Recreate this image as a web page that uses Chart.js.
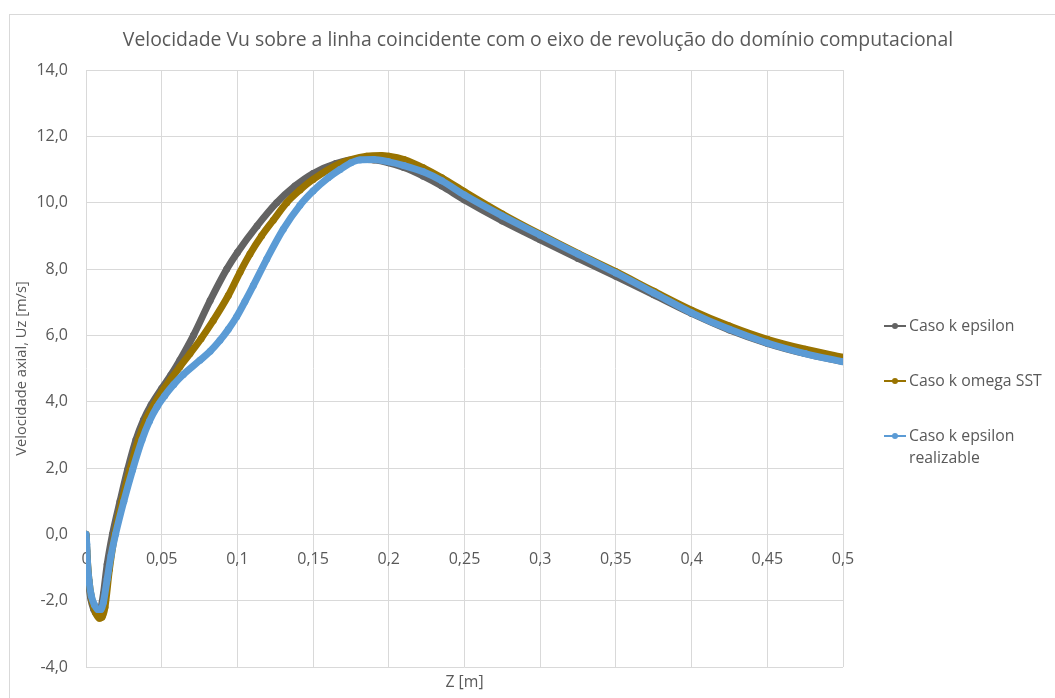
<!DOCTYPE html>
<html>
<head>
<meta charset="utf-8">
<script src="https://cdn.jsdelivr.net/npm/chart.js@4"></script>
<style>
  html, body { margin: 0; padding: 0; background: #ffffff; }
  canvas { display: block; }
</style>
</head>
<body>
<canvas id="c" width="1055" height="698"></canvas>
<script>
// ---- Data ----
const chartTitle = 'Velocidade Vu sobre a linha coincidente com o eixo de revolução do domínio computacional';
const xAxisTitle = 'Z [m]';
const yAxisTitle = 'Velocidade axial, Uz [m/s]';
const seriesNames = ['Caso k epsilon', 'Caso k omega SST', 'Caso k epsilon realizable'];
const seriesColors = ['#636363', '#997300', '#5B9BD5'];

const xTickLabels = ['0', '0,05', '0,1', '0,15', '0,2', '0,25', '0,3', '0,35', '0,4', '0,45', '0,5'];
const yTickLabels = ['-4,0', '-2,0', '0,0', '2,0', '4,0', '6,0', '8,0', '10,0', '12,0', '14,0'];

const zEps = [0, 0.0005, 0.0015, 0.003, 0.005, 0.0075, 0.0095, 0.0115, 0.014, 0.0175, 0.0225, 0.0275, 0.033, 0.038, 0.043, 0.05, 0.056, 0.062, 0.071, 0.082, 0.093, 0.1, 0.113, 0.126, 0.138, 0.15, 0.165, 0.18, 0.19, 0.2, 0.21, 0.2228, 0.235, 0.25, 0.275, 0.3, 0.325, 0.35, 0.375, 0.4, 0.425, 0.45, 0.475, 0.5];
const vEps = [0, -0.5, -1.3, -1.9, -2.25, -2.41, -2.3, -1.8, -0.9, 0, 1.0, 1.95, 2.85, 3.45, 3.9, 4.4, 4.8, 5.25, 6.0, 7.05, 8.0, 8.5, 9.3, 10.0, 10.5, 10.88, 11.18, 11.31, 11.29, 11.2, 11.06, 10.8, 10.5, 10.08, 9.45, 8.88, 8.32, 7.78, 7.22, 6.66, 6.16, 5.76, 5.45, 5.21];

const zSst = [0, 0.0008, 0.002, 0.004, 0.0065, 0.009, 0.0105, 0.0125, 0.0155, 0.019, 0.0235, 0.029, 0.035, 0.04, 0.045, 0.05, 0.056, 0.062, 0.0687, 0.076, 0.0841, 0.094, 0.1017, 0.1083, 0.116, 0.1237, 0.1326, 0.1413, 0.15, 0.1678, 0.1854, 0.195, 0.2, 0.21, 0.2228, 0.235, 0.25, 0.275, 0.3, 0.325, 0.35, 0.375, 0.4, 0.425, 0.45, 0.475, 0.5];
const vSst = [0, -0.7, -1.4, -2.0, -2.38, -2.53, -2.5, -2.2, -1.05, 0, 0.95, 1.95, 2.9, 3.5, 3.92, 4.3, 4.68, 5.05, 5.45, 5.9, 6.45, 7.2, 7.9, 8.45, 9.0, 9.47, 10.0, 10.38, 10.7, 11.18, 11.4, 11.42, 11.4, 11.3, 11.05, 10.75, 10.33, 9.66, 9.05, 8.47, 7.92, 7.33, 6.76, 6.28, 5.88, 5.58, 5.34];

const zReal = [0, 0.0005, 0.001, 0.002, 0.0035, 0.0055, 0.0078, 0.0097, 0.0115, 0.014, 0.0165, 0.0195, 0.025, 0.0308, 0.037, 0.042, 0.047, 0.052, 0.058, 0.0643, 0.0753, 0.082, 0.0885, 0.094, 0.0995, 0.105, 0.1105, 0.1194, 0.1303, 0.1413, 0.15, 0.16, 0.1678, 0.175, 0.181, 0.19, 0.2, 0.21, 0.2228, 0.235, 0.25, 0.275, 0.3, 0.325, 0.35, 0.375, 0.4, 0.425, 0.45, 0.475, 0.5];
const vReal = [0, -0.3, -0.85, -1.4, -1.85, -2.12, -2.27, -2.27, -2.05, -1.35, -0.65, 0, 1.0, 1.95, 2.85, 3.42, 3.85, 4.18, 4.52, 4.82, 5.25, 5.52, 5.85, 6.18, 6.56, 7.02, 7.5, 8.3, 9.2, 9.92, 10.35, 10.75, 11.0, 11.2, 11.29, 11.3, 11.23, 11.12, 10.93, 10.66, 10.23, 9.6, 9.02, 8.45, 7.88, 7.28, 6.68, 6.18, 5.77, 5.45, 5.2];

// ---- Build ----
const pts = (xs, ys) => xs.map((x, i) => ({ x: x, y: ys[i] }));
const seriesData = [pts(zEps, vEps), pts(zSst, vSst), pts(zReal, vReal)];

const FONT = '"Open Sans", "Noto Sans", sans-serif';
const TEXT = '#595959';

const decorPlugin = {
  id: 'decor',
  beforeDraw(chart) {
    const ctx = chart.ctx;
    ctx.save();
    ctx.fillStyle = '#ffffff';
    ctx.fillRect(0, 0, chart.width, chart.height);
    ctx.strokeStyle = '#d9d9d9';
    ctx.lineWidth = 1;
    ctx.strokeRect(9.5, 14.5, 1200, 900);
    ctx.restore();
  },
  afterDraw(chart) {
    const ctx = chart.ctx;
    const area = chart.chartArea;
    ctx.save();
    ctx.fillStyle = TEXT;
    ctx.textAlign = 'center';
    ctx.textBaseline = 'middle';
    ctx.font = '19.4px ' + FONT;
    ctx.fillText(chartTitle, 538, 40);
    ctx.font = '15.8px ' + FONT;
    ctx.fillText(xAxisTitle, (area.left + area.right) / 2, 682);
    ctx.save();
    ctx.font = '14.7px ' + FONT;
    ctx.translate(22, (area.top + area.bottom) / 2);
    ctx.rotate(-Math.PI / 2);
    ctx.fillText(yAxisTitle, 0, 0);
    ctx.restore();
    // legend
    const legendY = [326, 381, 436];
    ctx.textAlign = 'left';
    ctx.font = '15.8px ' + FONT;
    seriesNames.forEach((name, i) => {
      const y = legendY[i];
      ctx.strokeStyle = seriesColors[i];
      ctx.lineWidth = 2;
      ctx.beginPath();
      ctx.moveTo(884, y);
      ctx.lineTo(906, y);
      ctx.stroke();
      ctx.fillStyle = seriesColors[i];
      ctx.beginPath();
      ctx.arc(895, y, 3, 0, Math.PI * 2);
      ctx.fill();
      ctx.fillStyle = TEXT;
      if (i === 2) {
        ctx.fillText('Caso k epsilon', 909, y);
        ctx.fillText('realizable', 909, y + 22);
      } else {
        ctx.fillText(name, 909, y);
      }
    });
    ctx.restore();
  }
};

const datasets = seriesData.map((d, i) => ({
  label: seriesNames[i],
  data: d,
  showLine: true,
  borderColor: seriesColors[i],
  backgroundColor: seriesColors[i],
  borderWidth: 7,
  pointRadius: 3.5,
  pointHoverRadius: 3.5,
  pointBorderWidth: 0,
  cubicInterpolationMode: 'monotone',
  order: 3 - i
}));

new Chart(document.getElementById('c'), {
  type: 'scatter',
  data: { datasets: datasets },
  plugins: [decorPlugin],
  options: {
    responsive: false,
    animation: false,
    devicePixelRatio: 1,
    layout: { padding: { left: 0, top: 70, right: 212, bottom: 31 } },
    plugins: {
      legend: { display: false },
      title: { display: false },
      tooltip: { enabled: false }
    },
    scales: {
      x: {
        type: 'linear',
        position: { y: 0 },
        min: 0,
        max: 0.5,
        grid: { color: '#d9d9d9', drawTicks: false, lineWidth: 1 },
        border: { display: false },
        ticks: {
          stepSize: 0.05,
          padding: 16,
          color: TEXT,
          font: { family: FONT, size: 16 },
          maxRotation: 0,
          autoSkip: false,
          callback: (v) => xTickLabels[Math.round(v / 0.05)]
        }
      },
      y: {
        type: 'linear',
        position: 'left',
        min: -4,
        max: 14,
        grid: { color: '#d9d9d9', drawTicks: false, lineWidth: 1 },
        border: { display: false },
        afterFit: (scale) => { scale.width = 86; },
        ticks: {
          stepSize: 2,
          padding: 18,
          color: TEXT,
          font: { family: FONT, size: 16 },
          callback: (v) => yTickLabels[Math.round((v + 4) / 2)]
        }
      }
    }
  }
});
</script>
</body>
</html>
